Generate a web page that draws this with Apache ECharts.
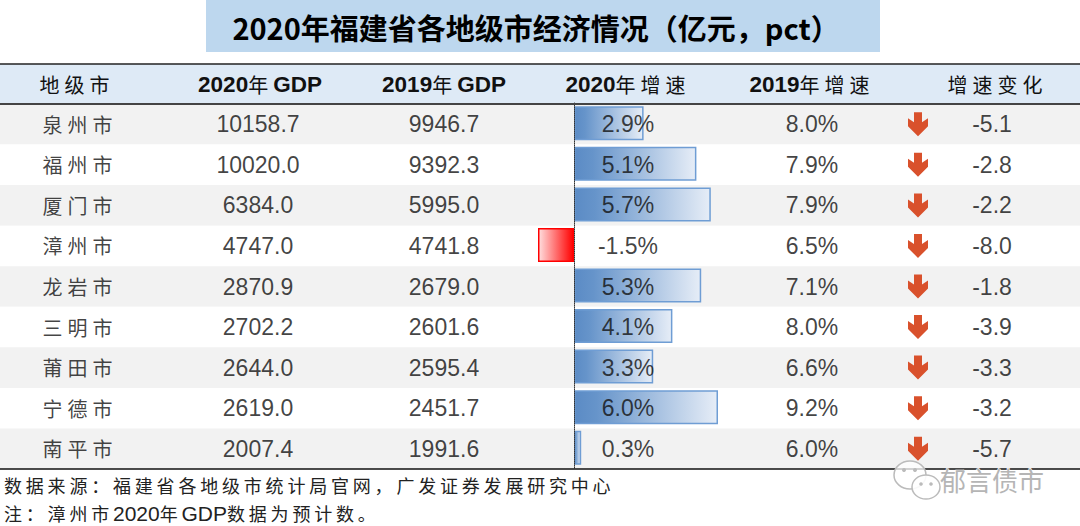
<!DOCTYPE html>
<html><head><meta charset="utf-8">
<style>
html,body{margin:0;padding:0;background:#fff}
#c{width:1080px;height:526px}
text[style*="20px"][style*="CJK"]{letter-spacing:5px}
text[style*="18px"][style*="CJK"]{letter-spacing:3.8px}
</style>
<script src="https://cdn.jsdelivr.net/npm/echarts@6/dist/echarts.min.js"></script>
</head><body><div id="c"></div>
<script>
const titleText = '2020年福建省各地级市经济情况\uFF08亿元\uFF0Cpct\uFF09';
const cities = ['泉州市','福州市','厦门市','漳州市','龙岩市','三明市','莆田市','宁德市','南平市'];
const gdp2020 = [10158.7,10020.0,6384.0,4747.0,2870.9,2702.2,2644.0,2619.0,2007.4];
const gdp2019 = [9946.7,9392.3,5995.0,4741.8,2679.0,2601.6,2595.4,2451.7,1991.6];
const growth2020 = [2.9,5.1,5.7,-1.5,5.3,4.1,3.3,6.0,0.3];
const growth2019 = [8.0,7.9,7.9,6.5,7.1,8.0,6.6,9.2,6.0];
const growthChange = [-5.1,-2.8,-2.2,-8.0,-1.8,-3.9,-3.3,-3.2,-5.7];
const sourceNote = '数据来源\uFF1A福建省各地级市统计局官网\uFF0C广发证券发展研究中心';

const NUM = '"Liberation Sans"', CJK = '"Noto Sans CJK SC"';
const chart = echarts.init(document.getElementById('c'), null, {renderer:'svg', width:1080, height:526});

function textCol(name, x, values, fmt, extra){
  return Object.assign({
    name, type:'scatter', xAxisIndex:0, yAxisIndex:0, symbolSize:0, z:5, silent:true,
    data: values.map((v,i)=>({value:[x, cities[i]], raw:v})),
    label:{show:true, position:'inside', color:'#111', fontFamily:NUM, fontSize:23,
      formatter:p=>fmt(p.data.raw)}
  }, extra||{});
}
const f1 = v=>v.toFixed(1), pct = v=>v.toFixed(1)+'%';
const arrowDown = 'path://M6,0 L14,0 L14,10 L20,6 L20,14 L10,24 L0,14 L0,6 L6,10 Z';

const barGrad = new echarts.graphic.LinearGradient(0,0,1,0,[{offset:0,color:'#5b8bc5'},{offset:0.15,color:'#6694ca'},{offset:1,color:'#e6edf7'}]);
const negGrad = new echarts.graphic.LinearGradient(0,0,1,0,[{offset:0,color:'#ffdede'},{offset:1,color:'#ff0000'}]);

function hdr(x,y,text,rich){
  return {type:'text',x,y,z:6,style:{text,rich,align:'center',verticalAlign:'middle',fill:'#111'}};
}
const cjkTok = (p,c)=>({fontFamily:CJK,fontSize:p.size,color:c,fill:c,padding:[0,p.pad,0,p.pad]});
const hRich = {
  n:{fontFamily:NUM,fontWeight:'bold',fontSize:22.5,fill:'#111',color:'#111'},
  y:cjkTok({size:20,pad:2.5},'#111'),
  s3:cjkTok({size:20,pad:7.5},'#111'),
  s4:cjkTok({size:20,pad:10},'#111')
};
const footTok = pad=>({fontFamily:CJK,fontSize:18,color:'#222',fill:'#222',padding:[0,pad,0,0]});
const fRich = {
  a5:footTok(19),
  a1:footTok(3.8),
  a7:footTok(0),
  n:{fontFamily:NUM,fontSize:21,color:'#222',fill:'#222'}
};

chart.setOption({
  animation:false,
  backgroundColor:'#fff',
  grid:[
    {left:0,top:104,width:1080,height:365},
    {left:538,top:103,width:180,height:365}
  ],
  xAxis:[
    {gridIndex:0,type:'value',min:0,max:1080,show:false},
    {gridIndex:1,type:'value',min:-1.5,max:6,show:false}
  ],
  yAxis:[
    {gridIndex:0,type:'category',inverse:true,data:cities,
      axisLine:{show:false},axisTick:{show:false},axisLabel:{show:false},
      splitLine:{show:false},splitArea:{show:true,areaStyle:{color:['#f2f2f2','#ffffff']}}},
    {gridIndex:1,type:'category',inverse:true,data:cities,z:3,
      axisTick:{show:false},axisLabel:{show:false},splitLine:{show:false},
      axisLine:{show:true,onZero:true,lineStyle:{color:'#333',width:1,type:[1,1]}}}
  ],
  series:[
    {name:'2020年增速条',type:'bar',xAxisIndex:1,yAxisIndex:1,z:2,barWidth:34,silent:true,
      data:growth2020.map(v=>({value:v,itemStyle:v<0
        ?{color:negGrad,borderColor:'#ff0000',borderWidth:1.5}
        :{color:barGrad,borderColor:'#6f9dd4',borderWidth:1.5}}))},
    textCol('地级市',80,cities,v=>v,{label:{show:true,position:'inside',color:'#111',fontFamily:CJK,fontSize:20,formatter:p=>p.data.raw}}),
    textCol('2020年GDP',258,gdp2020,f1),
    textCol('2019年GDP',444,gdp2019,f1),
    textCol('2020年增速',628,growth2020,pct),
    textCol('2019年增速',812,growth2019,pct),
    textCol('增速变化',992,growthChange,f1),
    {name:'箭头',type:'scatter',xAxisIndex:0,yAxisIndex:0,z:4,silent:true,
      data:growthChange.map((v,i)=>[918,cities[i]]),
      symbol:arrowDown,symbolSize:[20,24],itemStyle:{color:'#d9512c',opacity:1}}
  ],
  graphic:[
    {type:'rect',z:1,shape:{x:206,y:0,width:674,height:52},style:{fill:'#bdd7ee'}},
    {type:'text',x:536,y:27,z:6,style:{text:titleText,align:'center',verticalAlign:'middle',
      fontFamily:CJK,fontWeight:'bold',fontSize:29,fill:'#000'}},
    {type:'rect',z:1,shape:{x:0,y:64,width:1080,height:40},style:{fill:'#deeaf6'}},
    {type:'line',z:4,shape:{x1:0,y1:64,x2:1080,y2:64},style:{stroke:'#222',lineWidth:1.5}},
    {type:'line',z:4,shape:{x1:0,y1:104,x2:1080,y2:104},style:{stroke:'#444',lineWidth:2}},
    {type:'line',z:4,shape:{x1:0,y1:469,x2:1080,y2:469},style:{stroke:'#111',lineWidth:1.5}},
    hdr(77,84,'{s3|地级市}',hRich),
    hdr(260,84,'{n|2020}{y|年}{n|GDP}',hRich),
    hdr(444,84,'{n|2019}{y|年}{n|GDP}',hRich),
    hdr(628,84,'{n|2020}{s3|年增速}',hRich),
    hdr(812,84,'{n|2019}{s3|年增速}',hRich),
    hdr(997.5,84,'{s4|增速变化}',hRich),
    {type:'text',x:4,y:485,z:6,style:{text:sourceNote,align:'left',verticalAlign:'middle',
      fontFamily:CJK,fontSize:18,fill:'#222'}},
    {type:'text',x:4,y:513,z:6,style:{text:'{a5|注\uFF1A漳州市}{n|2020}{a1|年}{n|GDP}{a7|数据为预计数。}',
      rich:fRich,align:'left',verticalAlign:'middle',fill:'#222'}},
    {type:'ellipse',z:20,shape:{cx:910,cy:475,rx:16,ry:14},style:{fill:'rgba(255,255,255,0.75)',stroke:'#bbb',lineWidth:1.5}},
    {type:'ellipse',z:21,shape:{cx:926,cy:487,rx:14,ry:12},style:{fill:'rgba(255,255,255,0.9)',stroke:'#bbb',lineWidth:1.5}},
    {type:'circle',z:22,shape:{cx:904,cy:470,r:2},style:{fill:'#bbb'}},
    {type:'circle',z:22,shape:{cx:915,cy:470,r:2},style:{fill:'#bbb'}},
    {type:'circle',z:22,shape:{cx:921,cy:484,r:1.8},style:{fill:'#bbb'}},
    {type:'circle',z:22,shape:{cx:931,cy:484,r:1.8},style:{fill:'#bbb'}},
    {type:'text',x:940,y:479,z:22,style:{text:'郁言债市',align:'left',verticalAlign:'middle',
      fontFamily:CJK,fontSize:26,fill:'#b5b5b5',stroke:'#fff',lineWidth:1}}
  ]
});
</script></body></html>
